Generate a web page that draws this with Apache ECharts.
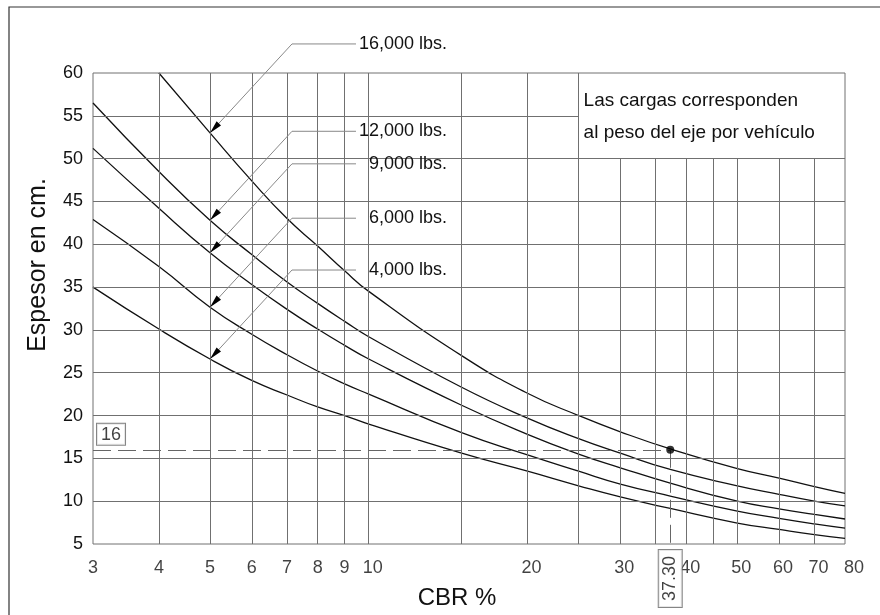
<!DOCTYPE html>
<html><head><meta charset="utf-8">
<script src="https://cdn.jsdelivr.net/npm/echarts@6/dist/echarts.min.js"></script>
<style>html,body{margin:0;padding:0;background:#fff}#c{width:880px;height:615px}</style>
</head><body><div id="c"></div>
<script>
// ---- data ----
const cbrX      = [3, 4, 5, 6, 7, 8, 9, 10, 15, 20, 25, 30, 37.3, 50, 60, 70, 80];
const esp16000  = [null, 60, 53.0, 47.4, 43.0, 39.8, 36.9, 34.5, 27.0, 22.6, 20.0, 18.1, 16.1, 13.8, 12.7, 11.7, 10.9];
const esp12000  = [56.5, 48.5, 42.8, 38.8, 35.6, 33.1, 31.0, 29.2, 23.3, 19.7, 17.3, 15.6, 13.7, 11.8, 10.8, 10.0, 9.44];
const esp9000   = [51.2, 44.2, 39.0, 35.3, 32.4, 30.1, 28.2, 26.6, 21.2, 17.8, 15.5, 13.9, 12.1, 10.0, 9.1, 8.45, 7.92];
const esp6000   = [42.9, 37.4, 32.65, 29.5, 27.1, 25.2, 23.7, 22.5, 18.0, 15.4, 13.5, 12.0, 10.6, 8.85, 8.0, 7.35, 6.85];
const esp4000   = [35.0, 30.1, 26.6, 24.1, 22.4, 21.0, 20.0, 19.0, 15.6, 13.5, 11.8, 10.5, 9.15, 7.45, 6.7, 6.1, 5.66];
const loadLabels = ['16,000 lbs.', '12,000 lbs.', '9,000 lbs.', '6,000 lbs.', '4,000 lbs.'];
const xTickLabels = [3, 4, 5, 6, 7, 8, 9, 10, 20, 30, 40, 50, 60, 70, 80];
const xGridLines  = [4, 5, 6, 7, 8, 9, 10, 15, 20, 25, 30, 35, 40, 45, 50, 60, 70];
const yGridLines  = [10, 15, 20, 25, 30, 35, 40, 45, 50, 55];
const designCBR = 37.3, designThickness = 16;
const designCBRText = '37.30', designThicknessText = '16';
const noteLines = ['Las cargas corresponden', 'al peso del eje por vehículo'];
const noteCorner = [25, 50];   // lower-left corner of the note box (CBR, cm)
const leaderAtCBR = 5;
const xMin = 3, xMax = 80, yMin = 5, yMax = 60;

// ---- chart ----
const FONT = "'Liberation Sans', Arial, sans-serif";
const chart = echarts.init(document.getElementById('c'), null, {renderer: 'canvas'});
const GRID_COLOR = '#707070';

const vLines = xGridLines.map(v => [{coord: [v, yMin]}, {coord: [v, v > noteCorner[0] ? noteCorner[1] : yMax]}]);
const hLines = yGridLines.map(v => [{coord: [xMin, v]}, {coord: [v > noteCorner[1] ? noteCorner[0] : xMax, v]}]);

function curve(arr) {
  return cbrX.map((x, i) => [x, arr[i]]).filter(p => p[1] != null);
}
const curveSeries = [esp16000, esp12000, esp9000, esp6000, esp4000].map((arr, k) => ({
  name: loadLabels[k], type: 'line', data: curve(arr), smooth: 0.5,
  showSymbol: false, symbol: 'none', z: 3, silent: true,
  lineStyle: {color: '#111', width: 1.3}
}));

chart.setOption({
  animation: false,
  grid: {left: 93, right: 35, top: 73, bottom: 71, show: true, borderColor: GRID_COLOR, borderWidth: 1},
  xAxis: {type: 'log', logBase: 10, min: xMin, max: xMax,
    axisLine: {show: false}, axisTick: {show: false}, axisLabel: {show: false}, splitLine: {show: false}},
  yAxis: {type: 'value', min: yMin, max: yMax, interval: 5,
    axisLine: {show: false}, axisTick: {show: false}, splitLine: {show: false},
    axisLabel: {fontSize: 18, fontFamily: FONT, color: '#111', margin: 10}},
  series: [
    {type: 'line', data: [], z: 1, silent: true,
      markLine: {silent: true, symbol: 'none', animation: false, label: {show: false},
        emphasis: {disabled: true},
        lineStyle: {color: GRID_COLOR, width: 1, type: 'solid'},
        data: vLines.concat(hLines)}},
    ...curveSeries,
    {type: 'scatter', data: [[designCBR, designThickness]], symbolSize: 8, z: 6, silent: true,
      itemStyle: {color: '#000'},
      markLine: {silent: true, symbol: 'none', animation: false, label: {show: false},
        emphasis: {disabled: true},
        lineStyle: {color: '#666', width: 1, type: [18, 7]},
        data: [[{coord: [xMin, designThickness]}, {coord: [designCBR, designThickness]}],
               [{coord: [designCBR, designThickness]}, {coord: [designCBR, yMin]}]]}},
    // x tick labels
    {type: 'scatter', symbolSize: 0, silent: true, z: 5,
      data: xTickLabels.map(v => ({value: [v, yMin], label: {offset: [v >= 80 ? 9 : (v >= 10 ? 4 : 0), 0]}})),
      label: {show: true, position: 'bottom', distance: 15, fontSize: 18, fontFamily: FONT, color: '#111',
        formatter: p => String(p.value[0])}},
    // boxed reference values
    {type: 'scatter', symbolSize: 0, silent: true, z: 7,
      data: [{value: [xMin, designThickness], label: {formatter: designThicknessText, position: [4, -26]}},
             {value: [designCBR, yMin], label: {formatter: designCBRText, position: 'bottom', distance: 6,
               rotate: 90, align: 'right', verticalAlign: 'middle', padding: [3, 6, 2, 6]}}],
      label: {show: true, fontSize: 18, fontFamily: FONT, color: '#111', backgroundColor: '#fff',
        borderColor: '#666', borderWidth: 1, padding: [2, 4, 1, 4]}}
  ]
});

// ---- annotations positioned through the chart's scales ----
const g = [];
g.push({type: 'rect', shape: {x: 9, y: 7, width: 900, height: 700}, style: {fill: null, stroke: '#333', lineWidth: 1.2}, z: 0, silent: true});
const i5 = cbrX.indexOf(leaderAtCBR);
[esp16000, esp12000, esp9000, esp6000, esp4000].forEach((arr, k) => {
  const [tx, ty] = chart.convertToPixel({gridIndex: 0}, [leaderAtCBR, arr[i5]]);
  const ex = tx + 82, ey = ty - 89;
  g.push({type: 'polyline', shape: {points: [[tx, ty], [ex, ey], [ex + 64, ey]]},
    style: {stroke: '#888', lineWidth: 1, fill: null}, z: 50, silent: true});
  const ang = Math.atan2(ey - ty, ex - tx), ux = Math.cos(ang), uy = Math.sin(ang);
  const L = 13, W = 3, bx = tx + ux * L, by = ty + uy * L;
  g.push({type: 'polygon', shape: {points: [[tx, ty], [bx - uy * W, by + ux * W], [bx + uy * W, by - ux * W]]},
    style: {fill: '#000'}, z: 51, silent: true});
  g.push({type: 'text', x: ex + 155, y: ey, z: 52, silent: true,
    style: {text: loadLabels[k], fontSize: 18, fontFamily: FONT, fill: '#111', align: 'right', verticalAlign: 'middle'}});
});
const [nx, ny] = chart.convertToPixel({gridIndex: 0}, [noteCorner[0], yMax]);
noteLines.forEach((t, i) => {
  g.push({type: 'text', x: nx + 5, y: ny + 28 + i * 32, z: 52, silent: true,
    style: {text: t, fontSize: 19, fontFamily: FONT, fill: '#111', align: 'left', verticalAlign: 'middle'}});
});
g.push({type: 'text', x: 38, y: 265, rotation: Math.PI / 2, z: 52, silent: true,
  style: {text: 'Espesor en cm.', fontSize: 25, fontFamily: FONT, fill: '#111', align: 'center', verticalAlign: 'middle'}});
g.push({type: 'text', x: 457, y: 598, z: 52, silent: true,
  style: {text: 'CBR %', fontSize: 24, fontFamily: FONT, fill: '#111', align: 'center', verticalAlign: 'middle'}});
chart.setOption({graphic: g});
</script></body></html>
